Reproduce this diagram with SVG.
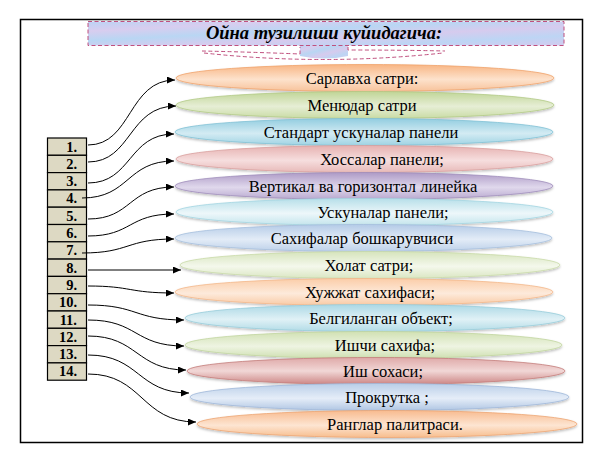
<svg xmlns="http://www.w3.org/2000/svg" width="612" height="449" viewBox="0 0 612 449">
<style>
  .lbl { font-family: "Liberation Serif", "Times New Roman", serif; font-size: 16.5px; fill: #000; text-anchor: middle; }
  .num { font-family: "Liberation Serif", "Times New Roman", serif; font-size: 14.5px; font-weight: bold; fill: #000; text-anchor: end; }
  .cell { fill: #ddd9c3; stroke: #000; stroke-width: 1.2; }
  .conn { fill: none; stroke: #000; stroke-width: 1; marker-end: url(#arr); }
  .ell { stroke-width: 0.8; filter: url(#sh); }
  .dash { fill: none; stroke: #c0507e; stroke-width: 1; stroke-dasharray: 4 2.5; }
</style>
<defs>
  <marker id="arr" markerUnits="userSpaceOnUse" markerWidth="8" markerHeight="7" refX="8" refY="3.5" orient="auto">
    <path d="M0,0 L8,3.5 L0,7 Z" fill="#000"/>
  </marker>
  <filter id="sh" x="-5%" y="-30%" width="110%" height="170%">
    <feDropShadow dx="0" dy="1.5" stdDeviation="1" flood-color="#000" flood-opacity="0.25"/>
  </filter>
  <linearGradient id="gBan" x1="0" y1="0" x2="1" y2="1">
    <stop offset="0" stop-color="#bcd2f4"/>
    <stop offset="0.2" stop-color="#d8cdef"/>
    <stop offset="0.4" stop-color="#b9d6f3"/>
    <stop offset="0.6" stop-color="#d6cbee"/>
    <stop offset="0.8" stop-color="#bdd5f4"/>
    <stop offset="1" stop-color="#d3cbef"/>
  </linearGradient>
  <linearGradient id="g1" x1="0" y1="0" x2="0" y2="1"><stop offset="0" stop-color="#f8b583"/><stop offset="0.55" stop-color="#fde2cc"/><stop offset="1" stop-color="#f7c29a"/></linearGradient>
  <linearGradient id="g2" x1="0" y1="0" x2="0" y2="1"><stop offset="0" stop-color="#c0d596"/><stop offset="0.55" stop-color="#e6eed5"/><stop offset="1" stop-color="#c9dba4"/></linearGradient>
  <linearGradient id="g3" x1="0" y1="0" x2="0" y2="1"><stop offset="0" stop-color="#92cde0"/><stop offset="0.55" stop-color="#d3ebf3"/><stop offset="1" stop-color="#9fd3e3"/></linearGradient>
  <linearGradient id="g4" x1="0" y1="0" x2="0" y2="1"><stop offset="0" stop-color="#e6b1b0"/><stop offset="0.55" stop-color="#f6dede"/><stop offset="1" stop-color="#e7b9b8"/></linearGradient>
  <linearGradient id="g5" x1="0" y1="0" x2="0" y2="1"><stop offset="0" stop-color="#ad9ac6"/><stop offset="0.55" stop-color="#e0d8ec"/><stop offset="1" stop-color="#b8a8cf"/></linearGradient>
  <linearGradient id="g6" x1="0" y1="0" x2="0" y2="1"><stop offset="0" stop-color="#b7dfe9"/><stop offset="0.55" stop-color="#edf7fa"/><stop offset="1" stop-color="#c3e4ec"/></linearGradient>
  <linearGradient id="g7" x1="0" y1="0" x2="0" y2="1"><stop offset="0" stop-color="#b4cbe7"/><stop offset="0.55" stop-color="#e3ecf7"/><stop offset="1" stop-color="#bcd0e9"/></linearGradient>
  <linearGradient id="g8" x1="0" y1="0" x2="0" y2="1"><stop offset="0" stop-color="#d6e4bc"/><stop offset="0.55" stop-color="#f4f8ec"/><stop offset="1" stop-color="#dae6c2"/></linearGradient>
  <linearGradient id="g9" x1="0" y1="0" x2="0" y2="1"><stop offset="0" stop-color="#fbcda8"/><stop offset="0.55" stop-color="#fdeadb"/><stop offset="1" stop-color="#f9caa4"/></linearGradient>
  <linearGradient id="g10" x1="0" y1="0" x2="0" y2="1"><stop offset="0" stop-color="#abd8e5"/><stop offset="0.55" stop-color="#e0f1f6"/><stop offset="1" stop-color="#b1dbe6"/></linearGradient>
  <linearGradient id="g11" x1="0" y1="0" x2="0" y2="1"><stop offset="0" stop-color="#d1e1b3"/><stop offset="0.55" stop-color="#eef4e2"/><stop offset="1" stop-color="#cedfb0"/></linearGradient>
  <linearGradient id="g12" x1="0" y1="0" x2="0" y2="1"><stop offset="0" stop-color="#dfa9a8"/><stop offset="0.5" stop-color="#f1d7d6"/><stop offset="1" stop-color="#cc8584"/></linearGradient>
  <linearGradient id="g13" x1="0" y1="0" x2="0" y2="1"><stop offset="0" stop-color="#b9cee8"/><stop offset="0.55" stop-color="#e5edf8"/><stop offset="1" stop-color="#b0c6e3"/></linearGradient>
  <linearGradient id="g14" x1="0" y1="0" x2="0" y2="1"><stop offset="0" stop-color="#f8bb8f"/><stop offset="0.55" stop-color="#fde5d2"/><stop offset="1" stop-color="#f7bd8d"/></linearGradient>
</defs>

<rect x="0" y="0" width="612" height="449" fill="#fff"/>
<rect x="20.5" y="19.5" width="562" height="423" fill="none" stroke="#000" stroke-width="1.5"/>

<g id="title">
  <path d="M300,45 L348,45 L348,56 Q324,61 300,56 Z" fill="url(#gBan)"/>
  <path class="dash" d="M202,51 Q250,52 300,54 L300,47"/>
  <path class="dash" d="M348,47 L348,50 Q400,50 445,51"/>
  <path class="dash" d="M204,53 Q323,66 443,53"/>
  <rect x="88" y="21.5" width="476" height="24" fill="url(#gBan)" stroke="#c0507e" stroke-width="1" stroke-dasharray="4 2.5"/>
  <text x="324" y="39" font-family="'Liberation Serif', 'Times New Roman', serif" font-size="18.5" font-weight="bold" font-style="italic" text-anchor="middle">Ойна тузилиши куйидагича:</text>
</g>

<g id="n1"><ellipse class="ell" cx="365" cy="78" rx="189" ry="13.5" fill="url(#g1)" stroke="#f0a36c"/><text class="lbl" x="362" y="83.5">Сарлавха сатри:</text></g>
<g id="n2"><ellipse class="ell" cx="365" cy="105" rx="189" ry="13.5" fill="url(#g2)" stroke="#b3ca86"/><text class="lbl" x="362" y="110.5">Менюдар сатри</text></g>
<g id="n3"><ellipse class="ell" cx="364" cy="132" rx="189" ry="13.5" fill="url(#g3)" stroke="#82c2d6"/><text class="lbl" x="361" y="137.5">Стандарт ускуналар панели</text></g>
<g id="n4"><ellipse class="ell" cx="364.5" cy="159" rx="188.5" ry="13.5" fill="url(#g4)" stroke="#d9a09e"/><text class="lbl" x="382" y="164.5">Хоссалар панели;</text></g>
<g id="n5"><ellipse class="ell" cx="364" cy="186" rx="189" ry="13.5" fill="url(#g5)" stroke="#a08ebb"/><text class="lbl" x="363" y="191.5">Вертикал ва горизонтал линейка</text></g>
<g id="n6"><ellipse class="ell" cx="364.5" cy="212" rx="188.5" ry="13.5" fill="url(#g6)" stroke="#a3d6e2"/><text class="lbl" x="383" y="217.5">Ускуналар панели;</text></g>
<g id="n7"><ellipse class="ell" cx="363.5" cy="238" rx="188.5" ry="13.5" fill="url(#g7)" stroke="#a6bfdd"/><text class="lbl" x="362" y="243.5">Сахифалар  бошкарувчиси</text></g>
<g id="n8"><ellipse class="ell" cx="370" cy="265" rx="190" ry="13.5" fill="url(#g8)" stroke="#c9daa8"/><text class="lbl" x="369" y="270.5">Холат сатри;</text></g>
<g id="n9"><ellipse class="ell" cx="364" cy="292" rx="189" ry="13.5" fill="url(#g9)" stroke="#f4b88a"/><text class="lbl" x="370" y="297.5">Хужжат сахифаси;</text></g>
<g id="n10"><ellipse class="ell" cx="375" cy="318" rx="190" ry="13.5" fill="url(#g10)" stroke="#98cdda"/><text class="lbl" x="381" y="323.5">Белгиланган объект;</text></g>
<g id="n11"><ellipse class="ell" cx="373.5" cy="345" rx="188.5" ry="13.5" fill="url(#g11)" stroke="#c2d6a0"/><text class="lbl" x="385" y="350.5">Ишчи сахифа;</text></g>
<g id="n12"><ellipse class="ell" cx="376" cy="371" rx="189" ry="13.5" fill="url(#g12)" stroke="#c47d7b"/><text class="lbl" x="383" y="376.5">Иш сохаси;</text></g>
<g id="n13"><ellipse class="ell" cx="379.5" cy="397" rx="189.5" ry="13.5" fill="url(#g13)" stroke="#9fb8d9"/><text class="lbl" x="387" y="402.5">Прокрутка ;</text></g>
<g id="n14"><ellipse class="ell" cx="387" cy="424" rx="190" ry="13.5" fill="url(#g14)" stroke="#eea674"/><text class="lbl" x="395" y="429.5">Ранглар палитраси.</text></g>

<g id="c1"><rect class="cell" x="47.5" y="138" width="39" height="17.3"/><text class="num" x="77" y="151.5">1.</text></g>
<g id="c2"><rect class="cell" x="47.5" y="155.3" width="39" height="17.3"/><text class="num" x="77" y="168.8">2.</text></g>
<g id="c3"><rect class="cell" x="47.5" y="172.6" width="39" height="17.3"/><text class="num" x="77" y="186.1">3.</text></g>
<g id="c4"><rect class="cell" x="47.5" y="189.9" width="39" height="17.3"/><text class="num" x="77" y="203.4">4.</text></g>
<g id="c5"><rect class="cell" x="47.5" y="207.2" width="39" height="17.3"/><text class="num" x="77" y="220.7">5.</text></g>
<g id="c6"><rect class="cell" x="47.5" y="224.5" width="39" height="17.3"/><text class="num" x="77" y="238">6.</text></g>
<g id="c7"><rect class="cell" x="47.5" y="241.8" width="39" height="17.3"/><text class="num" x="77" y="255.3">7.</text></g>
<g id="c8"><rect class="cell" x="47.5" y="259.1" width="39" height="17.3"/><text class="num" x="77" y="272.6">8.</text></g>
<g id="c9"><rect class="cell" x="47.5" y="276.4" width="39" height="17.3"/><text class="num" x="77" y="289.9">9.</text></g>
<g id="c10"><rect class="cell" x="47.5" y="293.7" width="39" height="17.3"/><text class="num" x="77" y="307.2">10.</text></g>
<g id="c11"><rect class="cell" x="47.5" y="311" width="39" height="17.3"/><text class="num" x="77" y="324.5">11.</text></g>
<g id="c12"><rect class="cell" x="47.5" y="328.3" width="39" height="17.3"/><text class="num" x="77" y="341.8">12.</text></g>
<g id="c13"><rect class="cell" x="47.5" y="345.6" width="39" height="17.3"/><text class="num" x="77" y="359.1">13.</text></g>
<g id="c14"><rect class="cell" x="47.5" y="362.9" width="39" height="17.3"/><text class="num" x="77" y="376.4">14.</text></g>

<g id="connectors">
  <path class="conn" d="M88,145 C132,145 128,80 175,80"/>
  <path class="conn" d="M88,162 C132,162 128,106 176,106"/>
  <path class="conn" d="M88,183 C132,183 128,134 174,134"/>
  <path class="conn" d="M82,198 C130,198 126,161 174,161"/>
  <path class="conn" d="M88,219 C132,219 128,187 174,187"/>
  <path class="conn" d="M88,236 C132,236 128,214 174,214"/>
  <path class="conn" d="M82,253 C130,253 126,239 174,239"/>
  <path class="conn" d="M88,270 L181,270"/>
  <path class="conn" d="M88,286 C132,286 128,293 174,293"/>
  <path class="conn" d="M88,305 C138,305 134,320 184,320"/>
  <path class="conn" d="M88,320 C138,320 134,346 184,346"/>
  <path class="conn" d="M88,336 C138,336 136,370 186,370"/>
  <path class="conn" d="M88,355 C140,355 137,393 189,393"/>
  <path class="conn" d="M88,374 C143,374 141,422 196,422"/>
</g>
</svg>
